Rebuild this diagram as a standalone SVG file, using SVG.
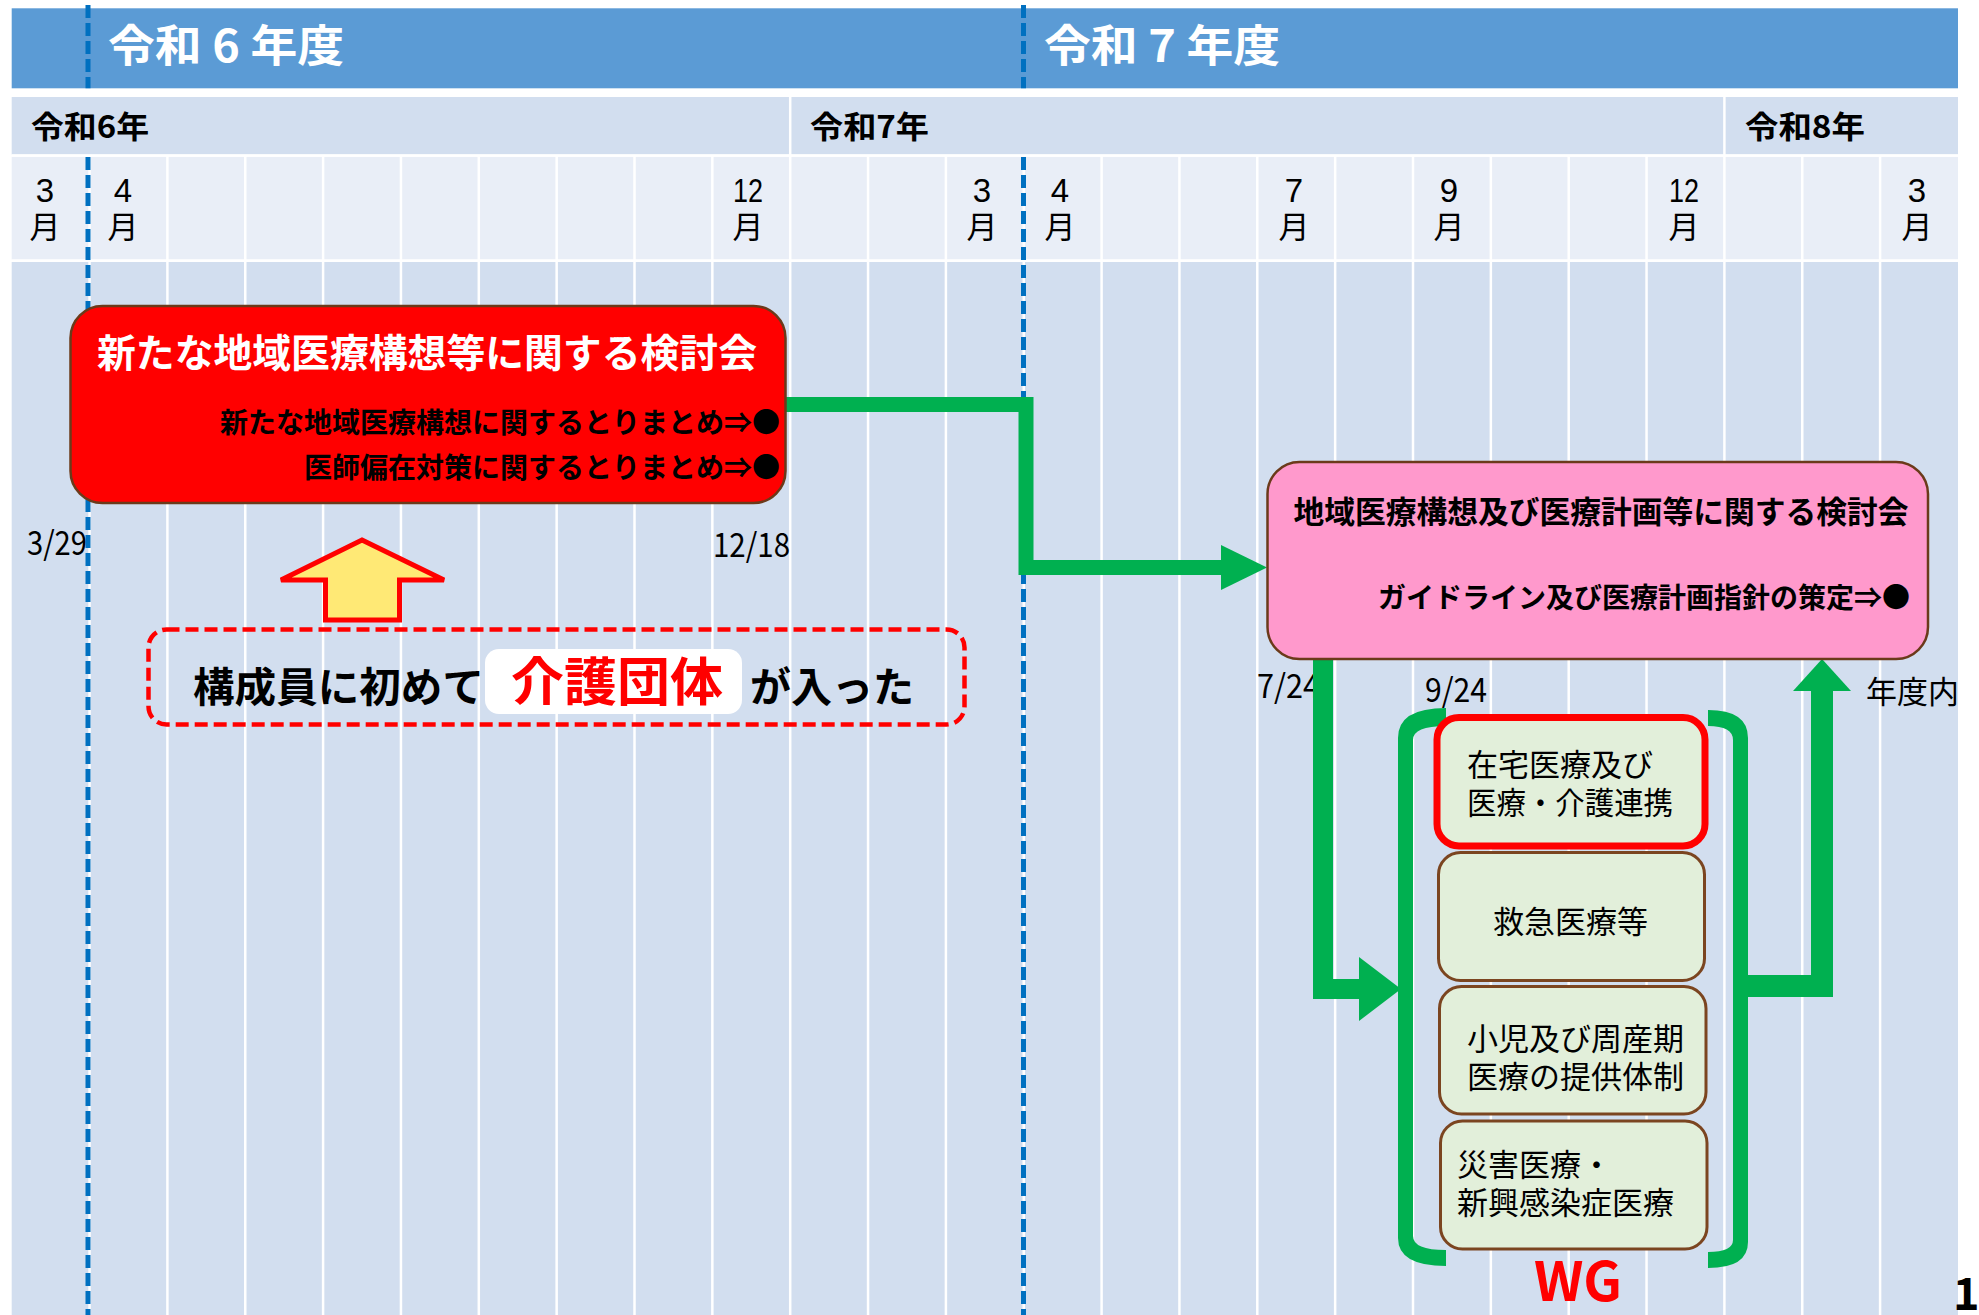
<svg xmlns="http://www.w3.org/2000/svg" width="1979" height="1315" viewBox="0 0 1979 1315">
<defs>
<style>
text{font-family:"Noto Sans CJK JP","Noto Sans",sans-serif;}
.hdr{fill:#FFFFFF;font-size:44px;font-weight:700;}
.yr{fill:#000;font-size:31px;font-weight:700;}
.mo{fill:#000;font-family:"Liberation Sans","Noto Sans CJK JP",sans-serif;font-size:33px;font-weight:400;text-anchor:middle;}
.mj{fill:#000;font-family:"Liberation Sans","Noto Sans CJK JP",sans-serif;font-size:31px;font-weight:400;text-anchor:middle;}
.grid{stroke:#FFFFFF;stroke-width:2.5;}
.dash{stroke:#0070C0;stroke-width:5;stroke-dasharray:13 5;fill:none;}
.date{fill:#000;font-size:33px;font-weight:400;}
.conn{stroke:#00B050;fill:none;}
.head{fill:#00B050;}
.wgbox{fill:#E2EFDA;stroke:#7B4520;stroke-width:3;}
.wgt{fill:#000;font-family:"Liberation Sans","Noto Sans CJK JP",sans-serif;font-size:31px;font-weight:400;}
.brace{fill:#00B050;}
</style>
</defs>
<rect x="0" y="0" width="1979" height="1315" fill="#FFFFFF"/>
<g id="timeline">
<rect x="11.7" y="8.3" width="1946.3" height="80" fill="#5B9BD5"/>
<rect x="11.7" y="97" width="1946.3" height="57.5" fill="#D2DEEF"/>
<rect x="11.7" y="156.8" width="1946.3" height="102.7" fill="#E9EEF7"/>
<rect x="11.7" y="262" width="1946.3" height="1053" fill="#D2DEEF"/>
<g class="grid">
<line x1="790.2" y1="97" x2="790.2" y2="155"/>
<line x1="1724.4" y1="97" x2="1724.4" y2="155"/>
<line x1="89.55" y1="155" x2="89.55" y2="1315"/>
<line x1="167.4" y1="155" x2="167.4" y2="1315"/>
<line x1="245.25" y1="155" x2="245.25" y2="1315"/>
<line x1="323.1" y1="155" x2="323.1" y2="1315"/>
<line x1="400.95" y1="155" x2="400.95" y2="1315"/>
<line x1="478.8" y1="155" x2="478.8" y2="1315"/>
<line x1="556.65" y1="155" x2="556.65" y2="1315"/>
<line x1="634.5" y1="155" x2="634.5" y2="1315"/>
<line x1="712.35" y1="155" x2="712.35" y2="1315"/>
<line x1="790.2" y1="155" x2="790.2" y2="1315"/>
<line x1="868.05" y1="155" x2="868.05" y2="1315"/>
<line x1="945.9" y1="155" x2="945.9" y2="1315"/>
<line x1="1023.75" y1="155" x2="1023.75" y2="1315"/>
<line x1="1101.6" y1="155" x2="1101.6" y2="1315"/>
<line x1="1179.45" y1="155" x2="1179.45" y2="1315"/>
<line x1="1257.3" y1="155" x2="1257.3" y2="1315"/>
<line x1="1335.15" y1="155" x2="1335.15" y2="1315"/>
<line x1="1413" y1="155" x2="1413" y2="1315"/>
<line x1="1490.85" y1="155" x2="1490.85" y2="1315"/>
<line x1="1568.7" y1="155" x2="1568.7" y2="1315"/>
<line x1="1646.55" y1="155" x2="1646.55" y2="1315"/>
<line x1="1724.4" y1="155" x2="1724.4" y2="1315"/>
<line x1="1802.25" y1="155" x2="1802.25" y2="1315"/>
<line x1="1880.1" y1="155" x2="1880.1" y2="1315"/>
<line x1="11.7" y1="155.6" x2="1958" y2="155.6"/>
<line x1="11.7" y1="260.8" x2="1958" y2="260.8"/>
</g>
<text class="hdr" x="108" y="61.5" textLength="236" lengthAdjust="spacingAndGlyphs">令和 6 年度</text>
<text class="hdr" x="1044" y="61.5" textLength="236" lengthAdjust="spacingAndGlyphs">令和 7 年度</text>
<text class="yr" x="31" y="137.5" textLength="118" lengthAdjust="spacingAndGlyphs">令和6年</text>
<text class="yr" x="810" y="137.5" textLength="119" lengthAdjust="spacingAndGlyphs">令和7年</text>
<text class="yr" x="1745" y="137.5" textLength="120" lengthAdjust="spacingAndGlyphs">令和8年</text>
<text class="mo" x="45" y="201.5">3</text><text class="mj" x="45" y="238">月</text>
<text class="mo" x="123" y="201.5">4</text><text class="mj" x="123" y="238">月</text>
<text class="mo" x="748" y="201.5" textLength="30" lengthAdjust="spacingAndGlyphs">12</text><text class="mj" x="748" y="238">月</text>
<text class="mo" x="982" y="201.5">3</text><text class="mj" x="982" y="238">月</text>
<text class="mo" x="1060" y="201.5">4</text><text class="mj" x="1060" y="238">月</text>
<text class="mo" x="1294" y="201.5">7</text><text class="mj" x="1294" y="238">月</text>
<text class="mo" x="1449" y="201.5">9</text><text class="mj" x="1449" y="238">月</text>
<text class="mo" x="1684" y="201.5" textLength="30" lengthAdjust="spacingAndGlyphs">12</text><text class="mj" x="1684" y="238">月</text>
<text class="mo" x="1917" y="201.5">3</text><text class="mj" x="1917" y="238">月</text>
<line class="dash" x1="88" y1="5" x2="88" y2="88.3"/>
<line class="dash" x1="88" y1="157" x2="88" y2="1315"/>
<line class="dash" x1="1023.5" y1="5" x2="1023.5" y2="88.3"/>
<line class="dash" x1="1023.5" y1="157" x2="1023.5" y2="1315"/>
<text class="date" x="27" y="555" textLength="60" lengthAdjust="spacingAndGlyphs">3/29</text>
<text class="date" x="713" y="557" textLength="77" lengthAdjust="spacingAndGlyphs">12/18</text>
<text class="date" x="1257" y="698" textLength="63" lengthAdjust="spacingAndGlyphs">7/24</text>
<text class="date" x="1425" y="702" textLength="62" lengthAdjust="spacingAndGlyphs">9/24</text>
<text class="wgt" x="1866" y="702.5">年度内</text>
<text x="1953" y="1310" font-size="45" font-weight="700" fill="#000">12</text>
</g>
<g id="connectors">
<path class="conn" stroke-width="15" d="M785 404.5 H1026 V567.5 H1224"/>
<polygon class="head" points="1221,545 1267,567.5 1221,590"/>
<path class="conn" stroke-width="20" d="M1323 658 V989 H1362"/>
<polygon class="head" points="1359,957 1401,989 1359,1021"/>
<path class="conn" stroke-width="22" d="M1746 986 H1822 V690"/>
<polygon class="head" points="1793,691 1822,659 1851,691"/>
</g>
<g id="node-kentokai1">
<rect x="70.5" y="306" width="715" height="197" rx="32" ry="32" fill="#FF0000" stroke="#6B3A1A" stroke-width="2.5"/>
<text x="427" y="367" font-size="39" font-weight="700" fill="#FFFFFF" text-anchor="middle" textLength="660" lengthAdjust="spacingAndGlyphs">新たな地域医療構想等に関する検討会</text>
<text x="780" y="432.5" font-size="28" font-weight="700" fill="#000" text-anchor="end">新たな地域医療構想に関するとりまとめ⇒●</text>
<text x="780" y="478" font-size="28" font-weight="700" fill="#000" text-anchor="end">医師偏在対策に関するとりまとめ⇒●</text>
</g>
<g id="node-kentokai2">
<rect x="1267.5" y="462" width="660.5" height="197" rx="32" ry="32" fill="#FF99CC" stroke="#6B3A1A" stroke-width="2.5"/>
<text x="1601" y="522.5" font-size="31" font-weight="700" fill="#000" text-anchor="middle" textLength="615" lengthAdjust="spacingAndGlyphs">地域医療構想及び医療計画等に関する検討会</text>
<text x="1910" y="608" font-size="28" font-weight="700" fill="#000" text-anchor="end">ガイドライン及び医療計画指針の策定⇒●</text>
</g>
<g id="note-arrow">
<polygon points="362,540 444,580 399.5,580 399.5,620 325.5,620 325.5,580 281,580" fill="#FFE975" stroke="#FF0000" stroke-width="5" stroke-linejoin="miter"/>
</g>
<g id="note-box">
<rect x="148.5" y="629.5" width="816" height="95" rx="18" ry="18" fill="none" stroke="#FF0000" stroke-width="4.5" stroke-dasharray="13 6"/>
<rect x="485" y="649" width="257" height="65" rx="14" ry="14" fill="#FFFFFF"/>
<text x="193" y="701.5" font-size="41" font-weight="700" fill="#000" textLength="291" lengthAdjust="spacingAndGlyphs">構成員に初めて</text>
<text x="511" y="701" font-size="52" font-weight="700" fill="#FF0000" textLength="212" lengthAdjust="spacingAndGlyphs">介護団体</text>
<text x="750" y="701.5" font-size="41" font-weight="700" fill="#000">が入った</text>
</g>
<g id="wg-group">
<path class="brace" d="M1446 708 Q1398 708 1398 738 L1398 1238 Q1398 1266 1446 1266 L1446 1250 Q1413 1250 1413 1236 L1413 740 Q1413 726 1446 726 Z"/>
<path class="brace" d="M1708 710 Q1748 710 1748 738 L1748 1242 Q1748 1268 1708 1268 L1708 1252 Q1733 1252 1733 1240 L1733 740 Q1733 726 1708 726 Z"/>
<text x="1578" y="1301" font-family="Liberation Sans, sans-serif" font-size="54" font-weight="700" fill="#FF0000" text-anchor="middle">WG</text>
</g>
<g id="wg-zaitaku">
<rect x="1437" y="717.5" width="268" height="128.5" rx="22" ry="22" fill="#E2EFDA" stroke="#FF0000" stroke-width="7"/>
<text class="wgt" x="1467" y="775.5">在宅医療及び</text>
<text class="wgt" x="1467" y="814" textLength="206" lengthAdjust="spacingAndGlyphs">医療・介護連携</text>
</g>
<g id="wg-kyukyu">
<rect class="wgbox" x="1438.5" y="852.5" width="266" height="128" rx="22" ry="22"/>
<text class="wgt" x="1570.5" y="932.5" text-anchor="middle">救急医療等</text>
</g>
<g id="wg-shoni">
<rect class="wgbox" x="1439.5" y="986.5" width="266.5" height="127.5" rx="22" ry="22"/>
<text class="wgt" x="1467" y="1050">小児及び周産期</text>
<text class="wgt" x="1467" y="1088">医療の提供体制</text>
</g>
<g id="wg-saigai">
<rect class="wgbox" x="1440.5" y="1121" width="266.5" height="128" rx="22" ry="22"/>
<text class="wgt" x="1457" y="1175.5">災害医療・</text>
<text class="wgt" x="1457" y="1213.5">新興感染症医療</text>
</g>
</svg>
